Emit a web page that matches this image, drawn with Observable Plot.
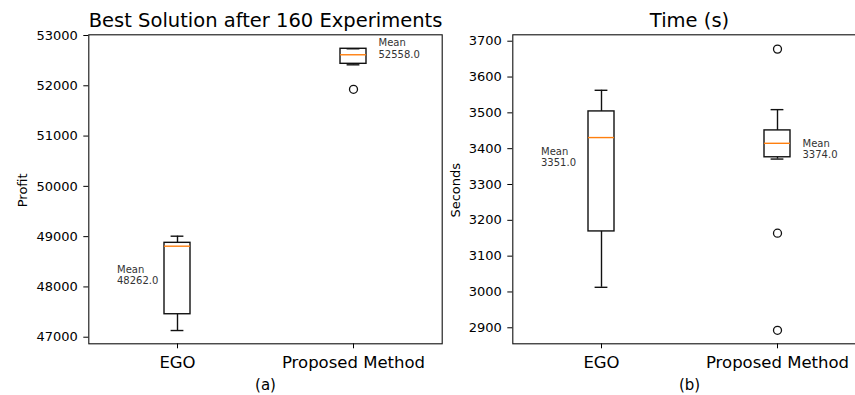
<!DOCTYPE html>
<html><head><meta charset="utf-8">
<script src="https://cdn.jsdelivr.net/npm/d3@7"></script>
<script src="https://cdn.jsdelivr.net/npm/@observablehq/plot@0.6"></script>
<style>
html,body{margin:0;padding:0;background:#fff;overflow:hidden;}
#wrap{position:relative;width:855px;height:395px;overflow:hidden;background:#fff;}
#wrap > svg{position:absolute;top:0;margin:0;}
</style></head><body><div id="wrap"></div>
<script>
// categories
const methods = ["EGO", "Proposed Method"];

// (a) Best solution after 160 experiments — profit box statistics
const profitWhiskerLow  = [47133, 52417];
const profitQ1          = [47457, 52437];
const profitMedian      = [48810, 52617];
const profitQ3          = [48877, 52736];
const profitWhiskerHigh = [49009, 52736];
const profitOutliers    = [[], [51930]];
const profitMeans       = [48262, 52558];
const profitLabelY      = [48062, 52558];
const profitTicks       = [47000, 48000, 49000, 50000, 51000, 52000, 53000];

// (b) Time (s) box statistics
const timeWhiskerLow  = [3013, 3371];
const timeQ1          = [3169, 3376];
const timeMedian      = [3431, 3415];
const timeQ3          = [3504, 3451];
const timeWhiskerHigh = [3563, 3509];
const timeOutliers    = [[], [3678, 3164, 2893]];
const timeMeans       = [3351, 3374];
const timeLabelY      = [3351, 3374];
const timeTicks       = [2900, 3000, 3100, 3200, 3300, 3400, 3500, 3600, 3700];

function panel(o) {
  const rows = methods.map((m, i) => ({
    m, lo: o.lo[i], q1: o.q1[i], med: o.med[i], q3: o.q3[i], hi: o.hi[i],
    ly: o.labelY[i], label: `Mean\n${o.means[i].toFixed(1)}`
  }));
  const outs = methods.flatMap((m, i) => o.outliers[i].map(v => ({m, v})));
  const lw = 1.4;
  const capInset = 6.6;
  return Plot.plot({
    width: 450, height: 395,
    marginLeft: 88.3, marginRight: 8.3, marginTop: 34.3, marginBottom: 51.7,
    x: {type: "band", domain: methods, paddingInner: 0.85, paddingOuter: 0.425},
    y: {domain: o.yDomain},
    style: {fontFamily: "'DejaVu Sans', sans-serif", background: "transparent", color: "black"},
    marks: [
      Plot.ruleX(rows, {x: "m", y1: "lo", y2: "q1", stroke: "#111", strokeWidth: lw}),
      Plot.ruleX(rows, {x: "m", y1: "q3", y2: "hi", stroke: "#111", strokeWidth: lw}),
      Plot.tickY(rows, {x: "m", y: "lo", stroke: "#111", strokeWidth: lw, insetLeft: capInset, insetRight: capInset}),
      Plot.tickY(rows, {x: "m", y: "hi", stroke: "#111", strokeWidth: lw, insetLeft: capInset, insetRight: capInset}),
      Plot.barY(rows, {x: "m", y1: "q1", y2: "q3", fill: "none", stroke: "#111", strokeWidth: lw}),
      Plot.tickY(rows, {x: "m", y: "med", stroke: "#ff7f0e", strokeWidth: lw}),
      Plot.dot(outs, {x: "m", y: "v", r: 4, stroke: "#111", fill: "none", strokeWidth: 1.3}),
      Plot.text(rows, {filter: d => d.m === methods[0], x: "m", y: "ly", text: "label", textAnchor: "start",
        lineAnchor: "bottom", lineHeight: 1.13, dx: -60.5, fontSize: 10, fill: "#333"}),
      Plot.text(rows, {filter: d => d.m === methods[1], x: "m", y: "ly", text: "label", textAnchor: "start",
        lineAnchor: "bottom", lineHeight: 1.13, dx: 25, fontSize: 10, fill: "#333"}),
      Plot.axisY({ticks: o.yTicks, tickSize: 5, tickPadding: 6, tickFormat: d => String(d), fontSize: 13, label: null}),
      Plot.axisX({tickSize: 5, tickPadding: 7, fontSize: 16.5, label: null}),
      Plot.frame({stroke: "#111", strokeWidth: 1.1}),
      Plot.text([o.title], {text: d => d, frameAnchor: "top", dy: -8.3, lineAnchor: "bottom", fontSize: 19.5}),
      Plot.text([o.ylabel], {text: d => d, frameAnchor: "left", rotate: -90, dx: o.ylabelDx, dy: 1,
        lineAnchor: "bottom", textAnchor: "middle", fontSize: 13}),
      Plot.text([o.sub], {text: d => d, frameAnchor: "bottom", dy: 45.7, lineAnchor: "bottom", fontSize: 15})
    ]
  });
}

const left = panel({
  title: "Best Solution after 160 Experiments", ylabel: "Profit", sub: "(a)",
  lo: profitWhiskerLow, q1: profitQ1, med: profitMedian, q3: profitQ3, hi: profitWhiskerHigh,
  outliers: profitOutliers, means: profitMeans, labelY: profitLabelY,
  yDomain: [46869, 53014], yTicks: profitTicks, ylabelDx: -61.6
});
const right = panel({
  title: "Time (s)", ylabel: "Seconds", sub: "(b)",
  lo: timeWhiskerLow, q1: timeQ1, med: timeMedian, q3: timeQ3, hi: timeWhiskerHigh,
  outliers: timeOutliers, means: timeMeans, labelY: timeLabelY,
  yDomain: [2855.3, 3717.9], yTicks: timeTicks, ylabelDx: -53
});
left.style.left = "0px";
right.style.left = "424.1px";
const wrap = document.getElementById("wrap");
wrap.appendChild(right);
wrap.appendChild(left);
</script></body></html>
